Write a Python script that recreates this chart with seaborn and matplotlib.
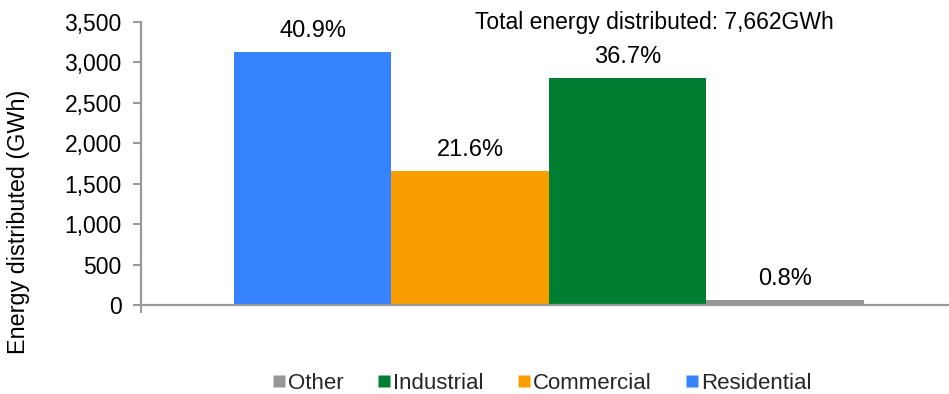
import matplotlib
matplotlib.use("Agg")
import matplotlib.pyplot as plt
from matplotlib.lines import Line2D
import seaborn as sns
import pandas as pd

categories = ["Residential", "Commercial", "Industrial", "Other"]
energy_gwh = [3134, 1655, 2812, 61]
share_labels = ["40.9%", "21.6%", "36.7%", "0.8%"]
colors = ["#3683FF", "#FA9E00", "#007F33", "#969696"]
legend_order = ["Other", "Industrial", "Commercial", "Residential"]
total_label = "Total energy distributed: 7,662GWh"
y_ticks = [0, 500, 1000, 1500, 2000, 2500, 3000, 3500]

sns.set_theme(style="white")
plt.rcParams["font.family"] = ["Liberation Sans", "DejaVu Sans"]

df = pd.DataFrame({"sector": categories, "energy": energy_gwh})
palette = dict(zip(categories, colors))

fig = plt.figure(figsize=(9.49, 3.94), dpi=100)
ax = fig.add_axes([0.1486, 0.2259, 0.8514, 0.7183])

sns.barplot(data=df, x="sector", y="energy", hue="sector", order=categories,
            hue_order=categories, palette=palette, width=1.0, dodge=False,
            saturation=1.0, legend=False, ax=ax, edgecolor="none")

x_left = -1.09
ax.set_xlim(x_left, 4.04)
ax.set_ylim(0, 3500)
ax.set_yticks(y_ticks)
ax.set_yticklabels([f"{t:,}" for t in y_ticks], fontsize=16.5, color="black")
ax.set_xticks([x_left])
ax.set_xticklabels([""])
ax.set_xlabel("")
ax.set_ylabel("")

grey = "#999999"
for side in ["top", "right"]:
    ax.spines[side].set_visible(False)
for side in ["left", "bottom"]:
    ax.spines[side].set_color(grey)
    ax.spines[side].set_linewidth(1.6)
ax.tick_params(axis="y", direction="out", length=6, width=1.5, color=grey, pad=8, left=True)
ax.tick_params(axis="x", direction="out", length=6, width=1.5, color=grey, bottom=True)

for i, (v, lab) in enumerate(zip(energy_gwh, share_labels)):
    ax.annotate(lab, xy=(i, v), xytext=(0, 7), textcoords="offset points",
                ha="center", va="bottom", fontsize=17, color="black")

ax.text(2.17, 3490, total_label, ha="center", va="center", fontsize=16.5, color="black")

fig.text(0.019, 0.437, "Energy distributed (GWh)", rotation=90, ha="center",
         va="center", fontsize=16.8, color="black")

handles = [Line2D([0], [0], marker="s", linestyle="none", markersize=8,
                  markerfacecolor=palette[c], markeredgecolor="none") for c in legend_order]
fig.legend(handles, legend_order, loc="center", bbox_to_anchor=(0.571, 0.027),
           ncol=4, frameon=False, fontsize=16, handletextpad=0.12,
           columnspacing=1.5, handlelength=0.6, borderpad=0, borderaxespad=0)

fig.savefig("out.png", dpi=100)
